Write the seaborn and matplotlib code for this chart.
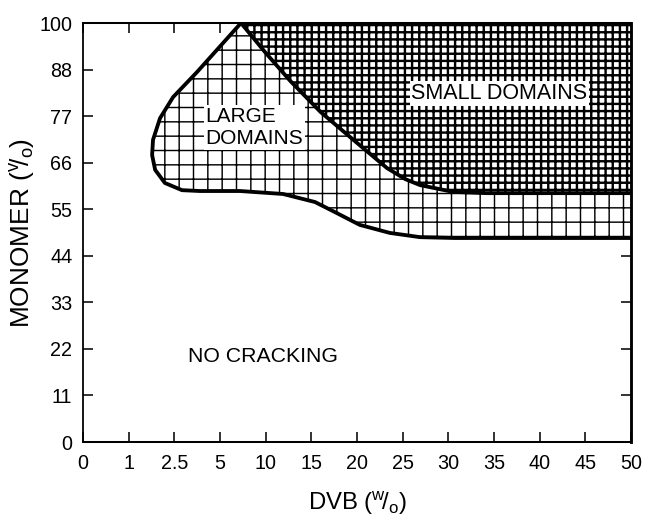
import numpy as np
import pandas as pd
import matplotlib
matplotlib.use("Agg")
import matplotlib.pyplot as plt
import seaborn as sns

# Tick values: both axes space their ticks evenly, regardless of value
dvb_ticks = [0, 1, 2.5, 5, 10, 15, 20, 25, 30, 35, 40, 45, 50]
monomer_ticks = [0, 11, 22, 33, 44, 55, 66, 77, 88, 100]

# Outer edge of the cracked region, from the apex round the left lobe to the right edge
outer_dvb = [7.3, 3.74, 2.46, 2.03, 1.80, 1.77, 1.87, 2.19, 2.92, 3.9,
             7.2, 11.9, 15.4, 17.6, 20.3, 23.6, 26.9, 30.7, 50]
outer_monomer = [100, 87.4, 81.5, 76.5, 71.4, 67.8, 64.3, 61.2, 59.5, 59.3,
                 59.3, 58.6, 56.7, 54.3, 51.3, 49.4, 48.4, 48.2, 48.2]

# Border between large and small domains
small_dvb = [7.3, 9.93, 12.7, 16.0, 19.6, 23.3, 25.3, 26.9, 30.5, 34.2, 50]
small_monomer = [100, 92.5, 85.3, 78.0, 71.4, 64.7, 62.1, 60.7, 59.1, 58.8, 58.8]

DPI = 86
sns.set_theme(style="ticks")
plt.rcParams["font.family"] = ["Liberation Sans", "DejaVu Sans"]
plt.rcParams["mathtext.fontset"] = "custom"
plt.rcParams["mathtext.rm"] = "Liberation Sans"
plt.rcParams["mathtext.it"] = "Liberation Sans:italic"
plt.rcParams["mathtext.bf"] = "Liberation Sans:bold"

fig = plt.figure(figsize=(648 / DPI, 516 / DPI), dpi=DPI, facecolor="white")
ax = fig.add_axes([83 / 648, 74 / 516, 548 / 648, 419 / 516])
ax.set_facecolor("white")

# piecewise-linear scales so each tick interval gets the same length
xpos = np.arange(len(dvb_ticks), dtype=float)
ypos = np.arange(len(monomer_ticks), dtype=float)
ax.set_xscale("function", functions=(lambda v: np.interp(v, dvb_ticks, xpos),
                                     lambda p: np.interp(p, xpos, dvb_ticks)))
ax.set_yscale("function", functions=(lambda v: np.interp(v, monomer_ticks, ypos),
                                     lambda p: np.interp(p, ypos, monomer_ticks)))


def hatched(xs, ys, pattern, lw):
    with plt.rc_context({"hatch.linewidth": lw}):
        patch = ax.fill(xs, ys, facecolor="white", edgecolor="black",
                        linewidth=0, hatch=pattern, zorder=1)[0]
    if hasattr(patch, "set_hatch_linewidth"):
        patch.set_hatch_linewidth(lw)
    return patch


# large domains: coarse grid; small domains: fine grid
hatched(outer_dvb + small_dvb[::-1], outer_monomer + small_monomer[::-1], "+", 1.2)
hatched(small_dvb + [50], small_monomer + [100], "++", 2.0)

outer = pd.DataFrame({"dvb": outer_dvb, "monomer": outer_monomer})
small = pd.DataFrame({"dvb": small_dvb, "monomer": small_monomer})
for df in (outer, small):
    sns.lineplot(data=df, x="dvb", y="monomer", sort=False, estimator=None,
                 color="black", linewidth=3.2, ax=ax, zorder=3,
                 solid_joinstyle="round", solid_capstyle="round")

ax.set_xlim(0, 50)
ax.set_ylim(0, 100)
ax.set_xticks(dvb_ticks)
ax.set_xticklabels([f"{t:g}" for t in dvb_ticks])
ax.set_yticks(monomer_ticks)
ax.set_yticklabels([str(t) for t in monomer_ticks])
ax.minorticks_off()

ax.tick_params(axis="both", which="major", direction="in", length=8.5, width=1.3,
               color="black", labelcolor="black", labelsize=16.5,
               top=True, right=True)
ax.tick_params(axis="x", pad=10)
ax.tick_params(axis="y", pad=9)
for side, lw in (("left", 1.5), ("bottom", 1.7), ("top", 1.7), ("right", 2.4)):
    ax.spines[side].set_visible(True)
    ax.spines[side].set_linewidth(lw)
    ax.spines[side].set_color("black")
    ax.spines[side].set_zorder(4)

ax.set_xlabel(r"DVB ($^{\mathrm{w}}\!/_{\mathrm{o}}$)", fontsize=20, color="black",
              labelpad=14)
ax.set_ylabel(r"MONOMER ($^{\mathrm{v}}\!/_{\mathrm{o}}$)", fontsize=22, color="black",
              labelpad=2)

box = dict(facecolor="white", edgecolor="none", pad=1.5)
ax.text(4.2, 74.3, "LARGE\nDOMAINS", ha="left", va="center", fontsize=17.5,
        color="black", bbox=box, zorder=5, linespacing=1.25)
ax.text(35.6, 82.3, "SMALL DOMAINS", ha="center", va="center", fontsize=18,
        color="black", bbox=box, zorder=5)
ax.text(3.25, 20.1, "NO CRACKING", ha="left", va="center", fontsize=17.8,
        color="black", zorder=5)

fig.savefig("out.png", dpi=DPI, facecolor="white")
